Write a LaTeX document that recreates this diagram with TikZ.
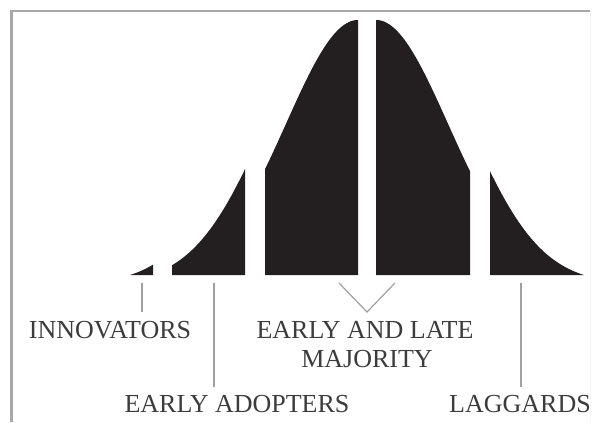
\documentclass[tikz,border=0pt]{standalone}
\usepackage{fontspec}
\setmainfont{Liberation Serif}
\definecolor{curvefill}{HTML}{231F20}
\definecolor{labeltext}{HTML}{3C3C3C}
\definecolor{leader}{HTML}{A0A0A0}
\definecolor{framec}{HTML}{A8A8A8}
\begin{document}
\begin{tikzpicture}[x=0.5pt,y=-0.5pt,
  label/.style={anchor=base,inner sep=0pt,text=labeltext,font=\fontsize{13}{15}\selectfont},
  leaderline/.style={draw=leader,line width=0.6pt},
  piece/.style={fill=curvefill,draw=none},
  framestyle/.style={draw=framec,line width=1.1pt}]
\useasboundingbox (0,0) rectangle (592,422);
% frame
\coordinate (ftl) at (11.5,11);
\coordinate (ftr) at (590,11);
\coordinate (fbl) at (11.5,422);
\coordinate (fbr) at (590,422);
\draw[framestyle] (fbl) -- (ftl) -- (ftr);
\draw[draw=gray!8,line width=0.4pt] (ftr) -- (fbr);
% curve pieces: h(u) = 263.7*(exp(-(u/100)^2/1.0368) - 0.0331), baseline y=275
\def\hcurve#1{275-263.7*(exp(-((#1)/100)^2/1.0368)-0.0331)}
\fill[piece] plot[domain=-188:-165,samples=20] ({\x+318},{\hcurve{\x}}) -- (153,275) -- cycle;
\fill[piece] (172,275) -- plot[domain=-166:-93,samples=40] ({\x+338},{\hcurve{\x}}) -- (245,275) -- cycle;
\fill[piece] (265,275) -- plot[domain=-93:0,samples=50] ({\x+358},{\hcurve{\x}}) -- (358,275) -- cycle;
\fill[piece] (376,275) -- plot[domain=0:94,samples=50] ({\x+376},{\hcurve{\x}}) -- (470,275) -- cycle;
\fill[piece] (490,275) -- plot[domain=94:188,samples=50] ({\x+396},{\hcurve{\x}}) -- cycle;
% labels
\node[label] (inn) at (110,338) {INNOVATORS};
\node[label] (eal) at (365,338) {EARLY AND LATE};
\node[label] (maj) at (367,367) {MAJORITY};
\node[label] (ead) at (237,412) {EARLY ADOPTERS};
\node[label] (lag) at (520,412) {LAGGARDS};
% leader lines
\coordinate (tinn) at (142,283);
\coordinate (binn) at (142,312);
\coordinate (tead) at (214,283);
\coordinate (bead) at (214,387);
\coordinate (vl) at (339,283);
\coordinate (vapex) at (367,312);
\coordinate (vr) at (395,283);
\coordinate (tlag) at (521,283);
\coordinate (blag) at (521,387);
\draw[leaderline] (tinn) -- (binn);
\draw[leaderline] (tead) -- (bead);
\draw[leaderline] (vl) -- (vapex) -- (vr);
\draw[leaderline] (tlag) -- (blag);
\end{tikzpicture}
\end{document}
